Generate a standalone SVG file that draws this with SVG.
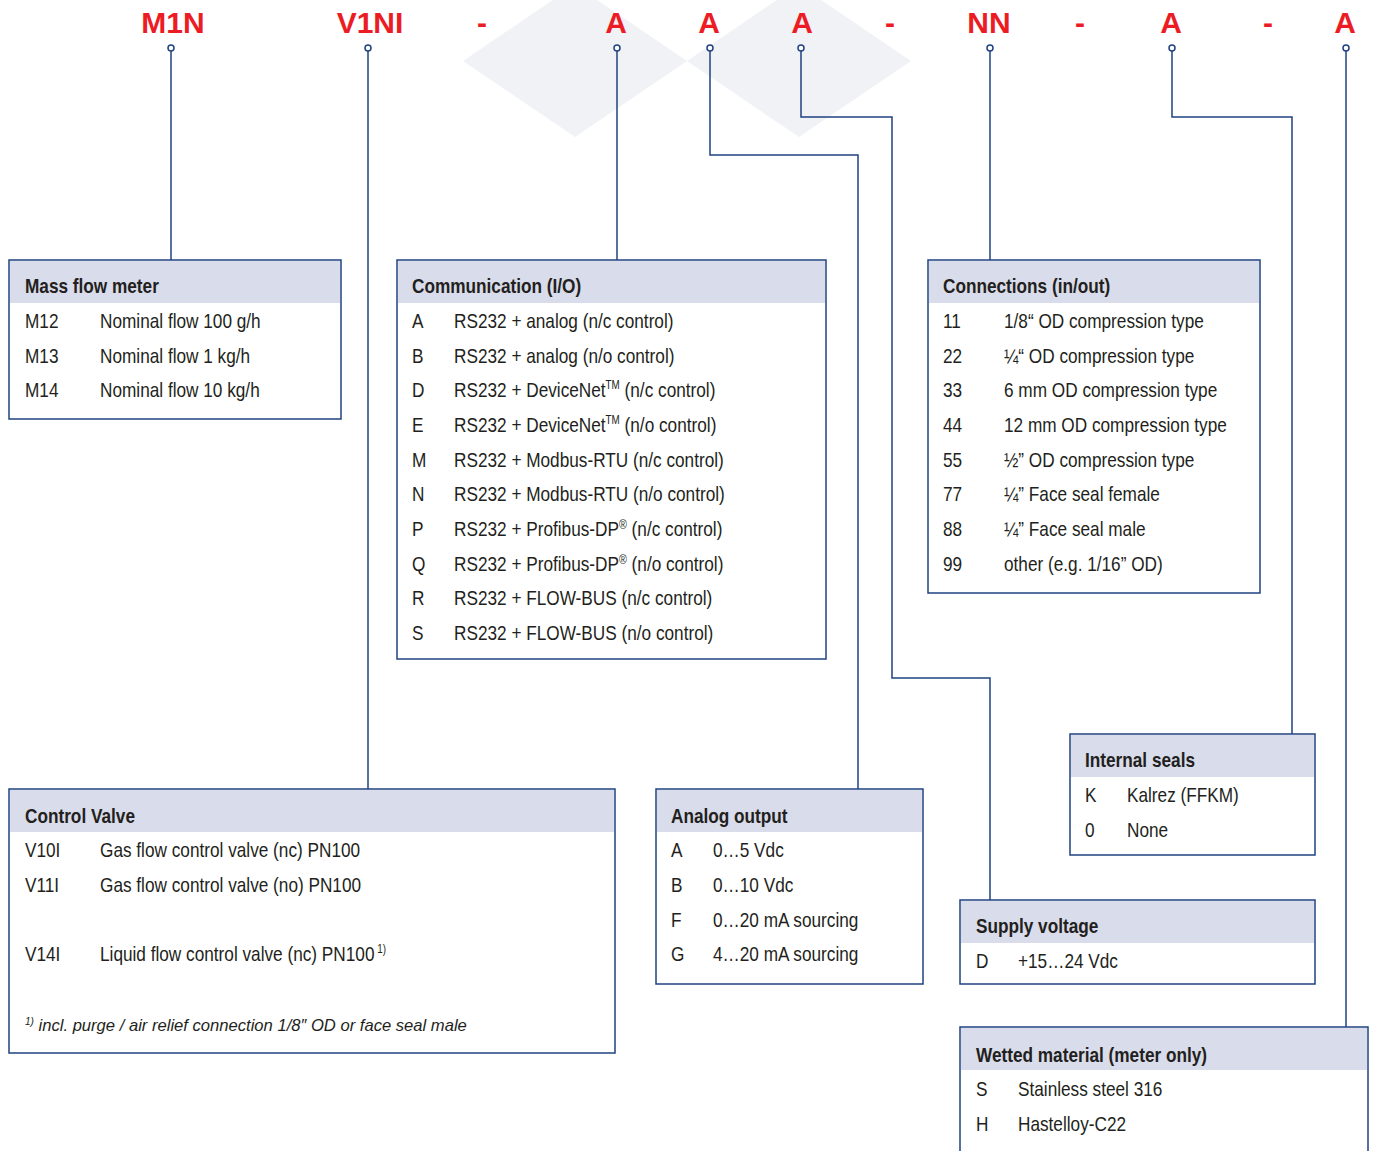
<svg xmlns="http://www.w3.org/2000/svg" width="1375" height="1151" viewBox="0 0 1375 1151">
<style>
.hd{font-family:"Liberation Sans",Arial,sans-serif;font-weight:bold;font-size:30px;fill:#ec1c24;text-anchor:middle}
.t{font-family:"Liberation Sans",Arial,sans-serif;font-size:21px;fill:#231f20}
.b{font-weight:bold}
.box{fill:#fff;stroke:#1f4281;stroke-width:1.5}
.band{fill:#d9dcea}
.ln{fill:none;stroke:#1f4281;stroke-width:1.5}
.dot{fill:#fff;stroke:#1f4281;stroke-width:1.5}
.fn{font-style:italic;font-size:16.6px}
</style>
<rect width="1375" height="1151" fill="#fff"/>
<g id="background">
<polygon points="575,-15 687,61 575,137 463,61" fill="#f1f2f6"/>
<polygon points="799,-15 911,61 799,137 687,61" fill="#f1f2f6"/>
</g>
<g id="code">
<text class="hd" x="173" y="33">M1N</text>
<text class="hd" x="370" y="33">V1NI</text>
<text class="hd" x="482" y="33">-</text>
<text class="hd" x="616" y="33">A</text>
<text class="hd" x="709" y="33">A</text>
<text class="hd" x="802" y="33">A</text>
<text class="hd" x="890" y="33">-</text>
<text class="hd" x="989" y="33">NN</text>
<text class="hd" x="1080" y="33">-</text>
<text class="hd" x="1171" y="33">A</text>
<text class="hd" x="1268" y="33">-</text>
<text class="hd" x="1345" y="33">A</text>
</g>
<g id="connectors">
<path class="ln" d="M171,51 V260"/>
<path class="ln" d="M368,51 V789"/>
<path class="ln" d="M617,51 V260"/>
<path class="ln" d="M710,51 V155 H858 V789"/>
<path class="ln" d="M801,51 V117 H892 V678 H990 V900"/>
<path class="ln" d="M990,51 V260"/>
<path class="ln" d="M1172,51 V117 H1292 V734"/>
<path class="ln" d="M1346,51 V1027"/>
<circle class="dot" cx="171" cy="48" r="3"/>
<circle class="dot" cx="368" cy="48" r="3"/>
<circle class="dot" cx="617" cy="48" r="3"/>
<circle class="dot" cx="710" cy="48" r="3"/>
<circle class="dot" cx="801" cy="48" r="3"/>
<circle class="dot" cx="990" cy="48" r="3"/>
<circle class="dot" cx="1172" cy="48" r="3"/>
<circle class="dot" cx="1346" cy="48" r="3"/>
</g>
<g id="mass-flow-meter">
<rect class="box" x="9" y="260" width="332" height="159"/>
<rect class="band" x="10" y="261" width="330" height="42"/>
<g transform="scale(0.82,1)">
<text class="t b" x="30.49" y="293">Mass flow meter</text>
<text class="t" x="30.49" y="328">M12</text><text class="t" x="121.95" y="328">Nominal flow 100 g/h</text>
<text class="t" x="30.49" y="363">M13</text><text class="t" x="121.95" y="363">Nominal flow 1 kg/h</text>
<text class="t" x="30.49" y="397">M14</text><text class="t" x="121.95" y="397">Nominal flow 10 kg/h</text>
</g>
</g>
<g id="communication">
<rect class="box" x="397" y="260" width="429" height="399"/>
<rect class="band" x="398" y="261" width="427" height="42"/>
<g transform="scale(0.82,1)">
<text class="t b" x="502.44" y="293">Communication (I/O)</text>
<text class="t" x="502.44" y="328">A</text><text class="t" x="553.66" y="328">RS232 + analog (n/c control)</text>
<text class="t" x="502.44" y="363">B</text><text class="t" x="553.66" y="363">RS232 + analog (n/o control)</text>
<text class="t" x="502.44" y="397">D</text><text class="t" x="553.66" y="397">RS232 + DeviceNet<tspan font-size="12" dy="-8">TM</tspan><tspan dy="8"> (n/c control)</tspan></text>
<text class="t" x="502.44" y="432">E</text><text class="t" x="553.66" y="432">RS232 + DeviceNet<tspan font-size="12" dy="-8">TM</tspan><tspan dy="8"> (n/o control)</tspan></text>
<text class="t" x="502.44" y="467">M</text><text class="t" x="553.66" y="467">RS232 + Modbus-RTU (n/c control)</text>
<text class="t" x="502.44" y="501">N</text><text class="t" x="553.66" y="501">RS232 + Modbus-RTU (n/o control)</text>
<text class="t" x="502.44" y="536">P</text><text class="t" x="553.66" y="536">RS232 + Profibus-DP<tspan font-size="13" dy="-7">®</tspan><tspan dy="7"> (n/c control)</tspan></text>
<text class="t" x="502.44" y="571">Q</text><text class="t" x="553.66" y="571">RS232 + Profibus-DP<tspan font-size="13" dy="-7">®</tspan><tspan dy="7"> (n/o control)</tspan></text>
<text class="t" x="502.44" y="605">R</text><text class="t" x="553.66" y="605">RS232 + FLOW-BUS (n/c control)</text>
<text class="t" x="502.44" y="640">S</text><text class="t" x="553.66" y="640">RS232 + FLOW-BUS (n/o control)</text>
</g>
</g>
<g id="connections">
<rect class="box" x="928" y="260" width="332" height="333"/>
<rect class="band" x="929" y="261" width="330" height="42"/>
<g transform="scale(0.82,1)">
<text class="t b" x="1150" y="293">Connections (in/out)</text>
<text class="t" x="1150" y="328">11</text><text class="t" x="1224.39" y="328">1/8“ OD compression type</text>
<text class="t" x="1150" y="363">22</text><text class="t" x="1224.39" y="363">¼“ OD compression type</text>
<text class="t" x="1150" y="397">33</text><text class="t" x="1224.39" y="397">6 mm OD compression type</text>
<text class="t" x="1150" y="432">44</text><text class="t" x="1224.39" y="432">12 mm OD compression type</text>
<text class="t" x="1150" y="467">55</text><text class="t" x="1224.39" y="467">½” OD compression type</text>
<text class="t" x="1150" y="501">77</text><text class="t" x="1224.39" y="501">¼” Face seal female</text>
<text class="t" x="1150" y="536">88</text><text class="t" x="1224.39" y="536">¼” Face seal male</text>
<text class="t" x="1150" y="571">99</text><text class="t" x="1224.39" y="571">other (e.g. 1/16” OD)</text>
</g>
</g>
<g id="internal-seals">
<rect class="box" x="1070" y="734" width="245" height="121"/>
<rect class="band" x="1071" y="735" width="243" height="42"/>
<g transform="scale(0.82,1)">
<text class="t b" x="1323.17" y="767">Internal seals</text>
<text class="t" x="1323.17" y="802">K</text><text class="t" x="1374.39" y="802">Kalrez (FFKM)</text>
<text class="t" x="1323.17" y="837">0</text><text class="t" x="1374.39" y="837">None</text>
</g>
</g>
<g id="control-valve">
<rect class="box" x="9" y="789" width="606" height="264"/>
<rect class="band" x="10" y="790" width="604" height="42"/>
<g transform="scale(0.82,1)">
<text class="t b" x="30.49" y="823">Control Valve</text>
<text class="t" x="30.49" y="857">V10I</text><text class="t" x="121.95" y="857">Gas flow control valve (nc) PN100</text>
<text class="t" x="30.49" y="892">V11I</text><text class="t" x="121.95" y="892">Gas flow control valve (no) PN100</text>
<text class="t" x="30.49" y="961">V14I</text><text class="t" x="121.95" y="961">Liquid flow control valve (nc) PN100<tspan font-size="12" dy="-8"> 1)</tspan></text>
</g>
<text class="t fn" x="25" y="1031"><tspan font-size="10" dy="-6">1)</tspan><tspan dy="6"> incl. purge / air relief connection 1/8″ OD or face seal male</tspan></text>
</g>
<g id="analog-output">
<rect class="box" x="656" y="789" width="267" height="195"/>
<rect class="band" x="657" y="790" width="265" height="42"/>
<g transform="scale(0.82,1)">
<text class="t b" x="818.29" y="823">Analog output</text>
<text class="t" x="818.29" y="857">A</text><text class="t" x="869.51" y="857">0…5 Vdc</text>
<text class="t" x="818.29" y="892">B</text><text class="t" x="869.51" y="892">0…10 Vdc</text>
<text class="t" x="818.29" y="927">F</text><text class="t" x="869.51" y="927">0…20 mA sourcing</text>
<text class="t" x="818.29" y="961">G</text><text class="t" x="869.51" y="961">4…20 mA sourcing</text>
</g>
</g>
<g id="supply-voltage">
<rect class="box" x="960" y="900" width="355" height="84"/>
<rect class="band" x="961" y="901" width="353" height="42"/>
<g transform="scale(0.82,1)">
<text class="t b" x="1190.24" y="933">Supply voltage</text>
<text class="t" x="1190.24" y="968">D</text><text class="t" x="1241.46" y="968">+15…24 Vdc</text>
</g>
</g>
<g id="wetted-material">
<rect class="box" x="960" y="1027" width="408" height="140"/>
<rect class="band" x="961" y="1028" width="406" height="42"/>
<g transform="scale(0.82,1)">
<text class="t b" x="1190.24" y="1062">Wetted material (meter only)</text>
<text class="t" x="1190.24" y="1096">S</text><text class="t" x="1241.46" y="1096">Stainless steel 316</text>
<text class="t" x="1190.24" y="1131">H</text><text class="t" x="1241.46" y="1131">Hastelloy-C22</text>
</g>
</g>
</svg>
